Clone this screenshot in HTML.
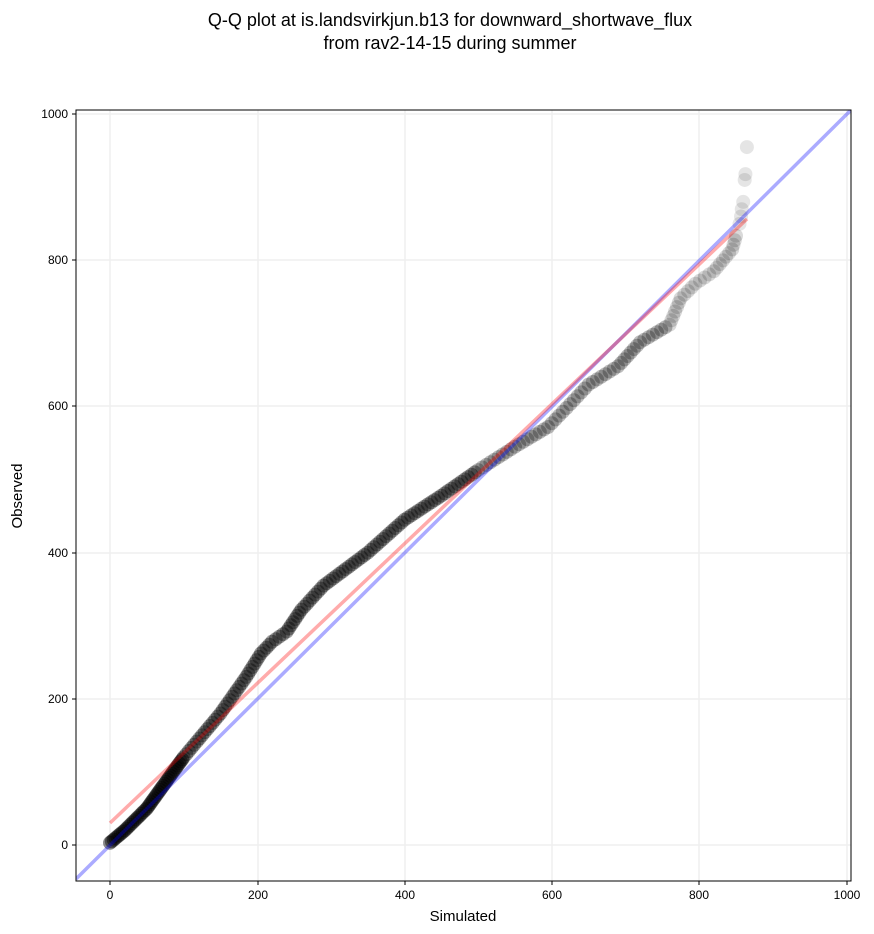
<!DOCTYPE html>
<html><head><meta charset="utf-8"><style>
body{margin:0;background:#fff;}
svg{display:block;font-family:"Liberation Sans","DejaVu Sans",sans-serif;}
</style></head><body>
<svg id="s" width="874" height="934" viewBox="0 0 874 934" xmlns="http://www.w3.org/2000/svg">
<text x="450" y="26" text-anchor="middle" font-size="18">Q-Q plot at is.landsvirkjun.b13 for downward_shortwave_flux</text>
<text x="450" y="49" text-anchor="middle" font-size="18">from rav2-14-15 during summer</text>
<defs><clipPath id="c"><rect x="76" y="110" width="775" height="771"/></clipPath></defs>
<g stroke="#efefef" stroke-width="1.5">
<line x1="110" y1="110" x2="110" y2="881"/><line x1="258" y1="110" x2="258" y2="881"/><line x1="405" y1="110" x2="405" y2="881"/><line x1="552" y1="110" x2="552" y2="881"/><line x1="699" y1="110" x2="699" y2="881"/><line x1="847" y1="110" x2="847" y2="881"/>
<line x1="76" y1="845" x2="851" y2="845"/><line x1="76" y1="699" x2="851" y2="699"/><line x1="76" y1="553" x2="851" y2="553"/><line x1="76" y1="406" x2="851" y2="406"/><line x1="76" y1="260" x2="851" y2="260"/><line x1="76" y1="114" x2="851" y2="114"/>
</g>
<g id="pts" clip-path="url(#c)"></g>
<g clip-path="url(#c)">
<line x1="76" y1="879" x2="851" y2="110" stroke="#0000ff" stroke-opacity="0.33" stroke-width="3.5"/>
<line x1="110" y1="823" x2="747" y2="219" stroke="#ff0000" stroke-opacity="0.33" stroke-width="3.5"/>
</g>
<rect x="76" y="110" width="775" height="771" fill="none" stroke="#000" stroke-width="1"/>
<g font-size="12" text-anchor="middle">
<g stroke="#000"><line x1="110" y1="881" x2="110" y2="885"/><line x1="258" y1="881" x2="258" y2="885"/><line x1="405" y1="881" x2="405" y2="885"/><line x1="552" y1="881" x2="552" y2="885"/><line x1="699" y1="881" x2="699" y2="885"/><line x1="847" y1="881" x2="847" y2="885"/>
<line x1="72" y1="845" x2="76" y2="845"/><line x1="72" y1="699" x2="76" y2="699"/><line x1="72" y1="553" x2="76" y2="553"/><line x1="72" y1="406" x2="76" y2="406"/><line x1="72" y1="260" x2="76" y2="260"/><line x1="72" y1="114" x2="76" y2="114"/></g>
<text x="110" y="899">0</text><text x="258" y="899">200</text><text x="405" y="899">400</text><text x="552" y="899">600</text><text x="699" y="899">800</text><text x="847" y="899">1000</text>
</g>
<g font-size="12" text-anchor="end">
<text x="68" y="849">0</text><text x="68" y="703">200</text><text x="68" y="557">400</text><text x="68" y="410">600</text><text x="68" y="264">800</text><text x="68" y="118">1000</text>
</g>
<text x="463" y="921" text-anchor="middle" font-size="15">Simulated</text>
<text transform="translate(22,496) rotate(-90)" text-anchor="middle" font-size="15">Observed</text>
</svg>
<script>
var P=[[0,3],[20,20],[50,50],[100,120],[150,180],[185,230],[205,262],[220,278],[240,292],[260,322],[290,355],[350,400],[400,445],[450,478],[500,513],[550,545],[595,572],[620,598],[650,630],[690,655],[720,688],[760,712],[775,748],[795,768],[820,785],[845,815],[852,840]];
function X(v){return 110+0.7363*v}function Y(v){return 845-0.7308*v}
var g=document.getElementById('pts'),h="";
for(var i=0;i<P.length-1;i++){var a=P[i],b=P[i+1];var dx=X(b[0])-X(a[0]),dy=Y(b[1])-Y(a[1]);var L=Math.sqrt(dx*dx+dy*dy);var step=a[0]<100?2.5:(a[0]<500?4:5);var n=Math.max(1,Math.round(L/step));
for(var k=0;k<n;k++){var t=k/n;var x=X(a[0])+dx*t,y=Y(a[1])+dy*t;var op=a[0]<100?0.45:(a[0]<500?0.38:(a[0]<750?0.26:0.15));h+='<circle cx="'+x.toFixed(1)+'" cy="'+y.toFixed(1)+'" r="7" fill="#000" fill-opacity="'+op+'"/>';}}
var tail=[[855,850],[857,860],[858,870],[860,880],[862,910],[863,918],[865,955]];
tail.forEach(function(p){h+='<circle cx="'+X(p[0])+'" cy="'+Y(p[1])+'" r="7" fill="#000" fill-opacity="0.1"/>';});
g.innerHTML=h;
</script>
</body></html>
